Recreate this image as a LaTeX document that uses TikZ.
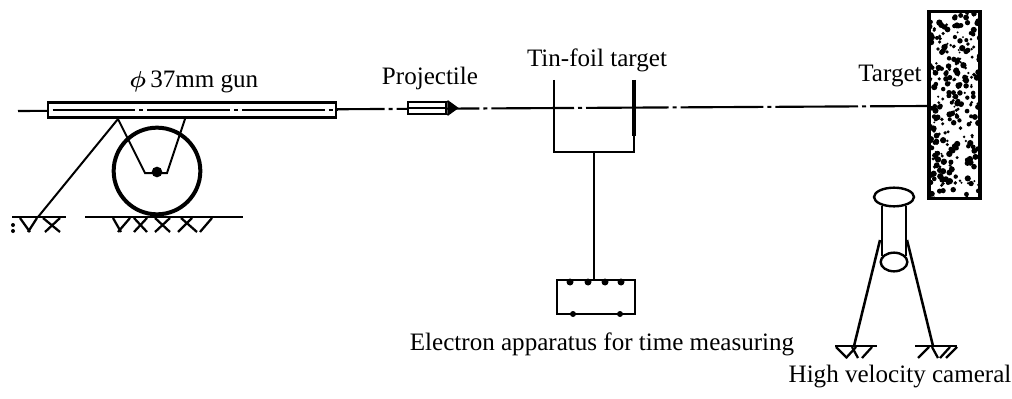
\documentclass[tikz,border=0pt]{standalone}
\usepackage{fontspec}
\usetikzlibrary{shapes.geometric}
\setmainfont{Liberation Serif}
\tikzset{
  part/.style={draw,line width=1.9pt},
  thin part/.style={draw,line width=1.5pt},
  label/.style={font=\fontsize{18.8}{22}\selectfont,inner sep=0pt},
  axisline/.style={line width=1.6pt,dash pattern=on 62pt off 3pt on 3pt off 3pt},
  hatch/.style={line width=1.7pt}
}
\begin{document}
\begin{tikzpicture}[x=0.75pt,y=-0.75pt]
  \useasboundingbox (0,0) rectangle (1012,399);

  \coordinate (axisstart) at (18,111);
  \coordinate (axisend) at (928,106);
  \draw[axisline] (axisstart) -- (axisend);

  \node[label] (gunlabel) at (194,82) {{\boldmath$\phi$}\,37mm gun};
  \node[label] (projlabel) at (430,78) {Projectile};
  \node[label] (foillabel) at (597,60) {Tin-foil target};
  \node[label] (targetlabel) at (890,76) {Target};
  \node[label] (timerlabel) at (602,344) {Electron apparatus for time measuring};
  \node[label] (cameralabel) at (900,377) {High velocity cameral};

  \node[part,fill=white,minimum width=216pt,minimum height=11pt,inner sep=0pt] (gun) at (192,110) {};
  \draw[axisline] (gun.west |- 0,110) ++(6,0) -- (gun.east |- 0,110);
  \node[draw,circle,line width=3pt,minimum size=65pt,inner sep=0pt] (wheel) at (157,171) {};
  \node[fill,circle,minimum size=8pt,inner sep=0pt] (hub) at (157,172) {};
  \coordinate (strutfoot) at (38,217);
  \coordinate (strutleft) at (118,119);
  \coordinate (strutright) at (185,119);
  \coordinate (forkleft) at (145,173);
  \coordinate (forkright) at (167,173);
  \draw[thin part] (strutleft) -- (strutfoot);
  \draw[thin part] (strutleft) -- (forkleft) -- (forkright) -- (strutright);

  \coordinate (groundA) at (12,217);
  \coordinate (groundB) at (66,217);
  \coordinate (groundC) at (85,217);
  \coordinate (groundD) at (243,217);
  \draw[part] (groundA) -- (groundB);
  \draw[part] (groundC) -- (groundD);
  \foreach \a/\b in {20/30,37/28,43/60,60/45,113/121,130/118,134/147,147/134,155/170,170/155,192/178,181/197,212/200}
    \draw[hatch] (\a,218) -- (\b,232);
  \fill (13,225) circle (2);
  \fill (13,231) circle (2);

  \node[thin part,fill=white,minimum width=29pt,minimum height=9pt,inner sep=0pt] (projectile) at (427,108) {};
  \coordinate (tip) at (457,108);
  \draw[thin part,fill] (projectile.north east) -- (tip) -- (projectile.south east);
  \draw[axisline] (projectile.west) -- (projectile.east);

  \coordinate (foilAtop) at (554,80);
  \coordinate (foilAbot) at (554,152);
  \coordinate (foilBtop) at (634,80);
  \coordinate (foilBmid) at (634,136);
  \coordinate (foilBbot) at (634,152);
  \coordinate (stemtop) at (594,152);
  \draw[part] (foilAtop) -- (foilAbot) -- (foilBbot) -- (foilBmid);
  \draw[line width=3.4pt] (foilBtop) -- (foilBmid);
  \node[thin part,minimum width=58pt,minimum height=25pt,inner sep=0pt] (timer) at (596,297) {};
  \draw[part] (stemtop) -- (stemtop |- timer.north);
  \foreach \x in {570,588,605,621}
    \fill (\x,282) circle (3.5);
  \foreach \x in {573,620}
    \fill (\x,314) circle (3);

  \node[draw,line width=2.6pt,minimum width=38pt,minimum height=140pt,inner sep=0pt] (target) at (954.5,105) {};
  \begin{scope}
    \clip (928,11) rectangle (981,199);
    \pgfmathsetseed{37}
    \foreach \i in {1,...,300}
      \fill ({928+53*rnd},{11+188*rnd}) circle ({1+2.2*rnd});
  \end{scope}

  \node[draw,ellipse,line width=1.8pt,minimum width=30pt,minimum height=14pt,inner sep=0pt] (lens) at (894,197) {};
  \node[draw,ellipse,line width=1.8pt,minimum width=20pt,minimum height=14pt,inner sep=0pt] (base) at (894,262) {};
  \draw[part] (882,206) -- (882,256);
  \draw[part] (906,206) -- (906,256);
  \coordinate (legA) at (880,240);
  \coordinate (legB) at (907,240);
  \coordinate (footA) at (854,346);
  \coordinate (footB) at (933,346);
  \draw[part] (legA) -- (footA);
  \draw[part] (legB) -- (footB);
  \coordinate (groundE) at (835,346);
  \coordinate (groundF) at (877,346);
  \coordinate (groundG) at (915,346);
  \coordinate (groundH) at (957,346);
  \draw[part] (groundE) -- (groundF);
  \draw[part] (groundG) -- (groundH);
  \foreach \a/\b in {836/847,856/846,852/858,872/862,929/918,932/938,950/940,957/946}
    \draw[hatch] (\a,347) -- (\b,358);
\end{tikzpicture}
\end{document}
